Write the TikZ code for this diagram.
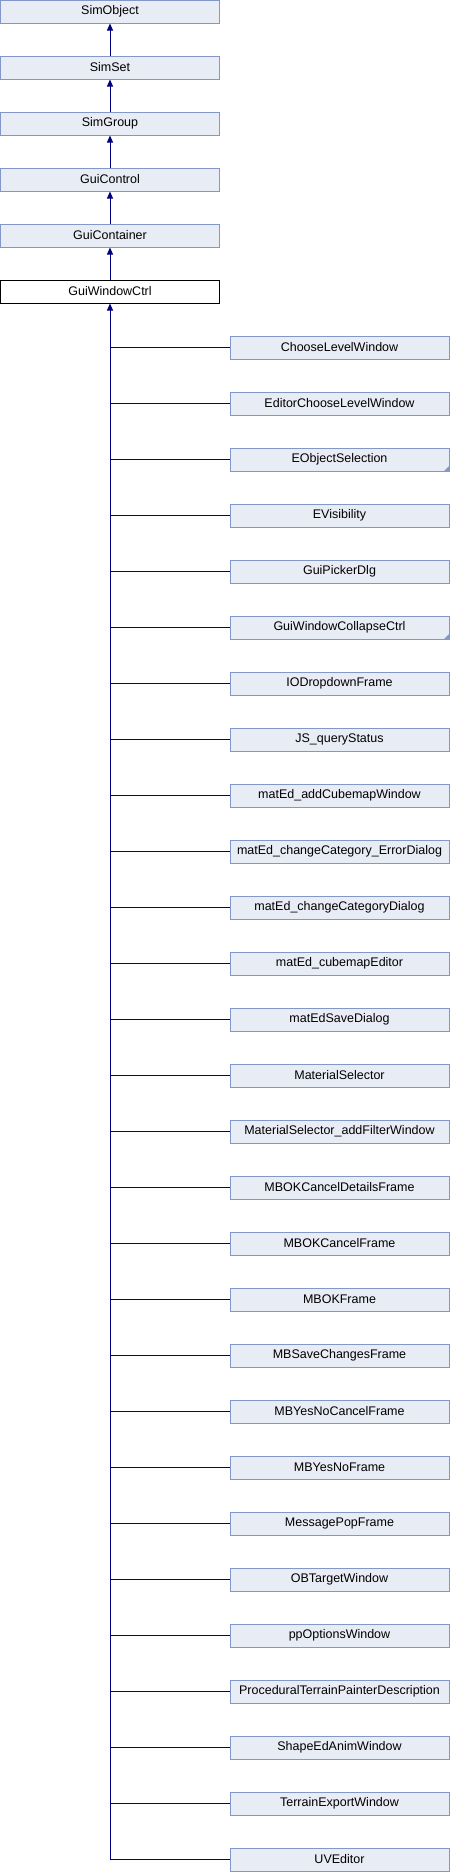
\documentclass[tikz,border=0pt]{standalone}
\usepackage{fontspec}
\setmainfont{Liberation Sans}
\usetikzlibrary{arrows.meta,positioning}

\definecolor{clsfill}{HTML}{E8ECF5}
\definecolor{clsdraw}{HTML}{8497CB}
\definecolor{linkcol}{HTML}{000080}

\begin{document}
\begin{tikzpicture}[
  font=\fontsize{12.5}{14}\selectfont,
  node distance=32pt,
  cls/.style={draw=clsdraw, fill=clsfill, line width=1pt, minimum width=219pt, minimum height=23pt, inner sep=0pt},
  cur/.style={cls, draw=black, fill=white},
  link/.style={draw=linkcol, line width=1pt},
  up/.style={link, {Triangle[length=7pt,width=6pt]}-},
  more/.style={fill=clsdraw},
]
\useasboundingbox (0pt,0pt) rectangle (450pt,-1872pt);
% ---------------- base chain ----------------
\node[cls] (simobject) at (110pt,-11.5pt) {SimObject};
\node[cls, below=of simobject] (simset) {SimSet};
\node[cls, below=of simset] (simgroup) {SimGroup};
\node[cls, below=of simgroup] (guicontrol) {GuiControl};
\node[cls, below=of guicontrol] (guicontainer) {GuiContainer};
\node[cur, below=of guicontainer] (guiwindowctrl) {GuiWindowCtrl};

\draw[up] (simobject) -- (simset);
\draw[up] (simset) -- (simgroup);
\draw[up] (simgroup) -- (guicontrol);
\draw[up] (guicontrol) -- (guicontainer);
\draw[up] (guicontainer) -- (guiwindowctrl);

% ---------------- derived classes ----------------
\node[cls] (chooselevel) at (339.5pt,-347.5pt) {ChooseLevelWindow};
\node[cls, below=of chooselevel] (edchooselevel) {EditorChooseLevelWindow};
\node[cls, below=of edchooselevel] (eobjsel) {EObjectSelection};
\node[cls, below=of eobjsel] (evis) {EVisibility};
\node[cls, below=of evis] (picker) {GuiPickerDlg};
\node[cls, below=of picker] (collapse) {GuiWindowCollapseCtrl};
\node[cls, below=of collapse] (iodropdown) {IODropdownFrame};
\node[cls, below=of iodropdown] (jsquery) {JS\_queryStatus};
\node[cls, below=of jsquery] (addcubemap) {matEd\_addCubemapWindow};
\node[cls, below=of addcubemap] (caterror) {matEd\_changeCategory\_ErrorDialog};
\node[cls, below=of caterror] (catdialog) {matEd\_changeCategoryDialog};
\node[cls, below=of catdialog] (cubemaped) {matEd\_cubemapEditor};
\node[cls, below=of cubemaped] (savedialog) {matEdSaveDialog};
\node[cls, below=of savedialog] (matsel) {MaterialSelector};
\node[cls, below=of matsel] (matselfilter) {MaterialSelector\_addFilterWindow};
\node[cls, below=of matselfilter] (okcanceldet) {MBOKCancelDetailsFrame};
\node[cls, below=of okcanceldet] (okcancel) {MBOKCancelFrame};
\node[cls, below=of okcancel] (okframe) {MBOKFrame};
\node[cls, below=of okframe] (savechanges) {MBSaveChangesFrame};
\node[cls, below=of savechanges] (yesnocancel) {MBYesNoCancelFrame};
\node[cls, below=of yesnocancel] (yesno) {MBYesNoFrame};
\node[cls, below=of yesno] (msgpop) {MessagePopFrame};
\node[cls, below=of msgpop] (obtarget) {OBTargetWindow};
\node[cls, below=of obtarget] (ppoptions) {ppOptionsWindow};
\node[cls, below=of ppoptions] (terrainpainter) {ProceduralTerrainPainterDescription};
\node[cls, below=of terrainpainter] (shapedanim) {ShapeEdAnimWindow};
\node[cls, below=of shapedanim] (terrainexport) {TerrainExportWindow};
\node[cls, below=of terrainexport] (uveditor) {UVEditor};

% classes with more children
\fill[more] (eobjsel.south east) -- ++(-6pt,0pt) -- ++(6pt,6pt) -- cycle;
\fill[more] (collapse.south east) -- ++(-6pt,0pt) -- ++(6pt,6pt) -- cycle;

% ---------------- connectors ----------------
\draw[up] (guiwindowctrl.south) |- (uveditor.west);
\draw[link] (guiwindowctrl.south |- chooselevel.west) -- (chooselevel.west);
\draw[link] (guiwindowctrl.south |- edchooselevel.west) -- (edchooselevel.west);
\draw[link] (guiwindowctrl.south |- eobjsel.west) -- (eobjsel.west);
\draw[link] (guiwindowctrl.south |- evis.west) -- (evis.west);
\draw[link] (guiwindowctrl.south |- picker.west) -- (picker.west);
\draw[link] (guiwindowctrl.south |- collapse.west) -- (collapse.west);
\draw[link] (guiwindowctrl.south |- iodropdown.west) -- (iodropdown.west);
\draw[link] (guiwindowctrl.south |- jsquery.west) -- (jsquery.west);
\draw[link] (guiwindowctrl.south |- addcubemap.west) -- (addcubemap.west);
\draw[link] (guiwindowctrl.south |- caterror.west) -- (caterror.west);
\draw[link] (guiwindowctrl.south |- catdialog.west) -- (catdialog.west);
\draw[link] (guiwindowctrl.south |- cubemaped.west) -- (cubemaped.west);
\draw[link] (guiwindowctrl.south |- savedialog.west) -- (savedialog.west);
\draw[link] (guiwindowctrl.south |- matsel.west) -- (matsel.west);
\draw[link] (guiwindowctrl.south |- matselfilter.west) -- (matselfilter.west);
\draw[link] (guiwindowctrl.south |- okcanceldet.west) -- (okcanceldet.west);
\draw[link] (guiwindowctrl.south |- okcancel.west) -- (okcancel.west);
\draw[link] (guiwindowctrl.south |- okframe.west) -- (okframe.west);
\draw[link] (guiwindowctrl.south |- savechanges.west) -- (savechanges.west);
\draw[link] (guiwindowctrl.south |- yesnocancel.west) -- (yesnocancel.west);
\draw[link] (guiwindowctrl.south |- yesno.west) -- (yesno.west);
\draw[link] (guiwindowctrl.south |- msgpop.west) -- (msgpop.west);
\draw[link] (guiwindowctrl.south |- obtarget.west) -- (obtarget.west);
\draw[link] (guiwindowctrl.south |- ppoptions.west) -- (ppoptions.west);
\draw[link] (guiwindowctrl.south |- terrainpainter.west) -- (terrainpainter.west);
\draw[link] (guiwindowctrl.south |- shapedanim.west) -- (shapedanim.west);
\draw[link] (guiwindowctrl.south |- terrainexport.west) -- (terrainexport.west);
\end{tikzpicture}
\end{document}
